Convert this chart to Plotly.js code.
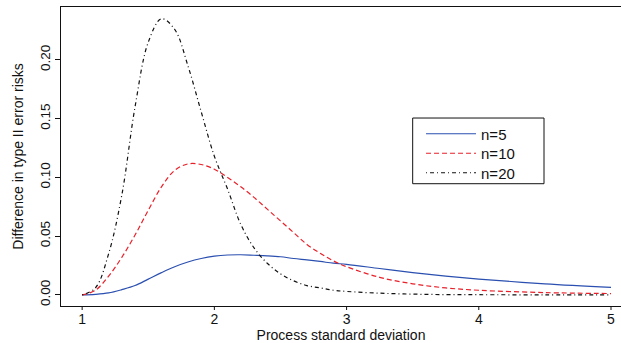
<!DOCTYPE html>
<html>
<head>
<meta charset="utf-8">
<script src="https://cdn.plot.ly/plotly-3.0.1.min.js"></script>
<style>html,body{margin:0;padding:0;background:#fff;}#chart{width:621px;height:343px;}</style>
</head>
<body>
<div id="chart"></div>
<script>
// Process standard deviation (x)
const sigma = [1.0,1.1,1.2,1.3,1.4,1.5,1.6,1.7,1.8,1.9,2.0,2.1,2.2,2.3,2.4,2.5,2.6,2.7,2.8,2.9,3.0,3.25,3.5,3.75,4.0,4.5,5.0];
// Difference in type II error risks
const n5  = [0,0.0005,0.0017,0.0045,0.008,0.0135,0.019,0.024,0.028,0.031,0.033,0.034,0.0342,0.0338,0.0333,0.0325,0.031,0.0298,0.0285,0.027,0.026,0.0225,0.019,0.016,0.0135,0.0095,0.0065];
const n10 = [0,0.004,0.016,0.032,0.051,0.072,0.092,0.106,0.1115,0.111,0.107,0.100,0.092,0.083,0.073,0.063,0.053,0.043,0.0355,0.029,0.024,0.015,0.0095,0.006,0.004,0.002,0.0012];
const n20 = [0,0.006,0.035,0.085,0.160,0.215,0.235,0.226,0.195,0.156,0.118,0.090,0.060,0.040,0.027,0.018,0.012,0.008,0.006,0.004,0.003,0.0015,0.0007,0.0003,0.0002,0.0001,0];
const seriesNames = ["n=5","n=10","n=20"];
const xTicks = [1,2,3,4,5];
const yTicks = [0,0.05,0.10,0.15,0.20];
const yTickText = ["0.00","0.05","0.10","0.15","0.20"];

const font = "Liberation Sans, Arial, Helvetica, sans-serif";
const traces = [
  {x: sigma, y: n5,  name: seriesNames[0], legend: "legend",  mode: "lines", line: {color: "#2a4fb0", width: 1.2, shape: "spline"}},
  {x: sigma, y: n10, name: seriesNames[1], legend: "legend2", mode: "lines", line: {color: "#e8202a", width: 1.2, dash: "5px,3px", shape: "spline"}},
  {x: sigma, y: n20, name: seriesNames[2], legend: "legend3", mode: "lines", line: {color: "#111111", width: 1.2, dash: "1px,3px,4px,3px", shape: "spline"}}
];
const legBase = {x: 0.6429, xanchor: "left", yanchor: "middle", borderwidth: 0, bgcolor: "rgba(0,0,0,0)", font: {size: 15, family: font}, itemwidth: 50};
const xTickMarks = xTicks.map(t => ({type: "line", xref: "x", yref: "paper", x0: t, x1: t, y0: 0, y1: -4/299, line: {color: "#111", width: 1}}));
const layout = {
  width: 621, height: 343,
  margin: {l: 61, r: 0, t: 7, b: 37, pad: 0},
  paper_bgcolor: "#fff", plot_bgcolor: "#fff",
  font: {family: font, size: 14, color: "#111"},
  showlegend: true,
  legend:  Object.assign({}, legBase, {y: 0.5753}),
  legend2: Object.assign({}, legBase, {y: 0.5100}),
  legend3: Object.assign({}, legBase, {y: 0.4448}),
  xaxis: {range: [0.84, 5.0756], tickvals: xTicks, ticktext: xTicks.map(String), ticks: "", showline: true, linecolor: "#111", linewidth: 1, mirror: true, showgrid: false, zeroline: false,
          title: {text: "Process standard deviation", font: {size: 14}, standoff: 3}, tickfont: {size: 14}, automargin: false},
  yaxis: {range: [-0.0094, 0.245], tickvals: yTicks, ticktext: yTickText, tickangle: -90, ticks: "outside", ticklen: 5, tickcolor: "#111", showline: true, linecolor: "#111", linewidth: 1, showgrid: false, zeroline: false,
          title: {text: "Difference in type II error risks", font: {size: 14}, standoff: 10}, tickfont: {size: 13.5}, automargin: false},
  shapes: [
    {type: "rect", xref: "paper", yref: "paper", x0: 0.628, x1: 0.8625, y0: 0.409, y1: 0.6287, line: {color: "#111", width: 1}}
  ].concat(xTickMarks)
};
Plotly.newPlot("chart", traces, layout, {displayModeBar: false, staticPlot: true});
</script>
</body>
</html>
